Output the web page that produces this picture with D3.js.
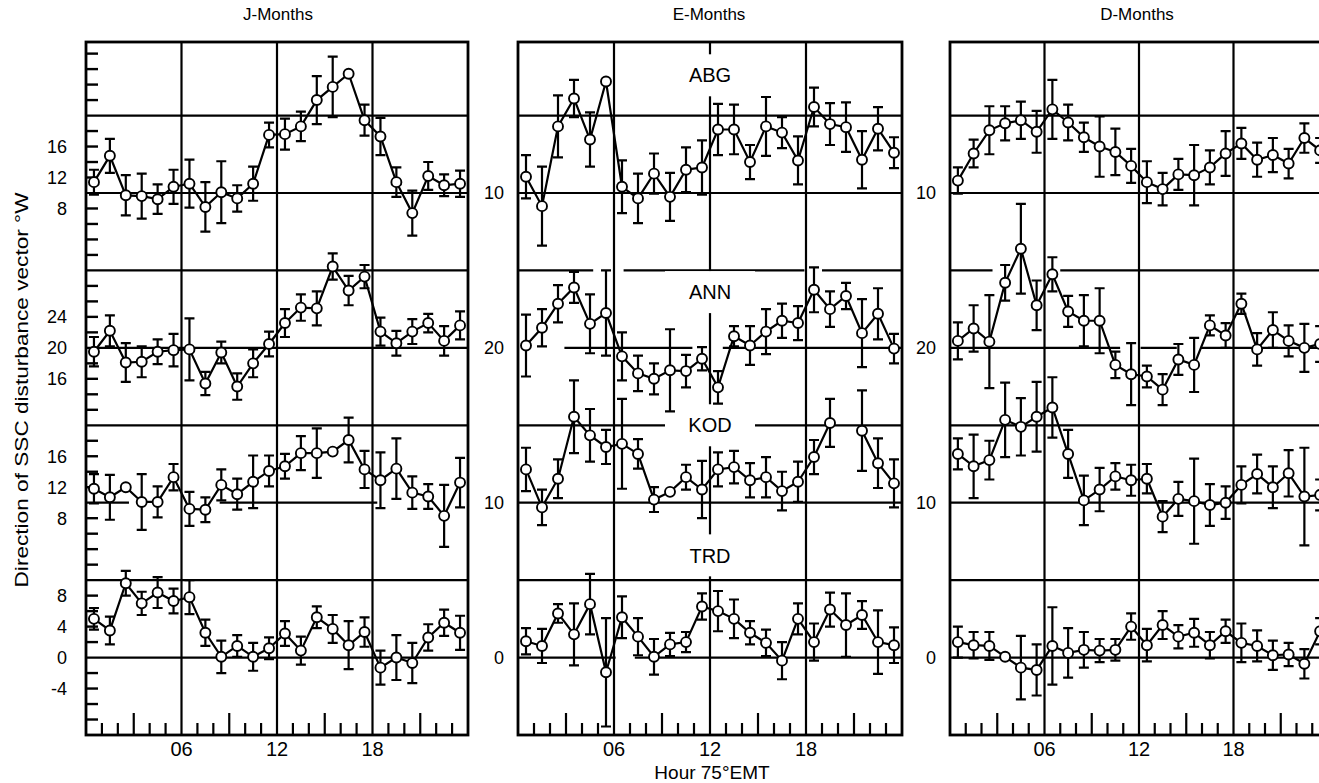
<!DOCTYPE html>
<html><head><meta charset="utf-8">
<script src="https://cdn.jsdelivr.net/npm/d3@7"></script>
<style>body{margin:0;background:#fff}svg{display:block}</style>
</head><body>
<svg id="c" width="1319" height="783"></svg>
<script>
// ---------------- DATA ----------------
const hours = [0.5,1.5,2.5,3.5,4.5,5.5,6.5,7.5,8.5,9.5,10.5,11.5,12.5,13.5,14.5,15.5,16.5,17.5,18.5,19.5,20.5,21.5,22.5,23.5];
const stations = ["ABG","ANN","KOD","TRD"];
const referenceValues = [10, 20, 10, 0];
const panelTitles = ["J-Months","E-Months","D-Months"];
const hourTickLabels = ["06","12","18"];
const jTickLabels = [["16","12","8"],["24","20","16"],["16","12","8"],["8","4","0","-4"]];
const edTickLabels = ["10","20","10","0"];

// J-Months
const J_ABG = [11.4,14.8,9.7,9.6,9.2,10.8,11.2,8.2,10.1,9.3,11.2,17.5,17.6,18.6,22.0,23.7,25.4,19.4,17.3,11.4,7.4,12.2,11.0,11.2];
const J_ABG_err = [1.6,2.2,2.6,2.9,1.9,2.2,3.1,3.2,4.0,1.7,2.2,1.6,2.0,1.9,3.1,3.9,0.6,2.0,2.4,1.9,2.9,1.8,1.4,1.7];
const J_ANN = [19.5,22.2,18.1,18.2,19.5,19.7,19.8,15.4,19.4,15.0,18.0,20.5,23.2,25.2,25.1,30.5,27.4,29.2,22.1,20.6,22.1,23.2,20.9,22.9];
const J_ANN_err = [1.9,2.0,2.5,2.0,1.6,2.1,4.0,1.5,1.4,1.7,1.8,1.6,1.8,1.7,2.2,1.7,1.9,1.5,1.8,1.6,1.6,1.2,1.9,1.8];
const J_KOD = [11.8,10.7,12.0,10.1,10.1,13.3,9.2,9.1,12.3,11.1,12.7,14.1,14.7,16.4,16.4,16.6,18.1,14.3,12.9,14.4,11.3,10.8,8.3,12.6];
const J_KOD_err = [1.9,2.9,0.6,3.6,2.0,1.7,2.2,1.6,2.0,2.0,3.4,2.0,1.6,2.2,3.2,0.5,2.9,2.4,3.6,3.9,2.1,1.6,4.0,3.2];
const J_TRD = [5.0,3.5,9.6,7.0,8.4,7.3,7.8,3.2,0.1,1.5,0.1,1.2,3.1,0.9,5.2,3.7,1.6,3.3,-1.3,0.0,-0.7,2.6,4.5,3.2];
const J_TRD_err = [1.4,1.8,1.6,1.5,2.0,1.6,2.2,1.7,2.1,1.4,1.8,1.4,1.6,1.8,1.4,1.8,3.1,1.9,2.2,2.9,2.6,1.7,1.7,2.2];

// E-Months
const E_ABG = [12.1,8.3,18.6,22.2,16.9,24.4,10.8,9.3,12.5,9.5,13.0,13.3,18.2,18.2,14.0,18.6,17.8,14.2,21.1,18.9,18.5,14.3,18.3,15.2];
const E_ABG_err = [2.8,5.1,4.0,2.4,3.5,0.5,3.4,3.2,2.6,3.1,2.9,3.5,3.3,3.2,2.2,3.8,2.0,3.1,2.5,2.7,3.2,3.7,2.8,2.0];
const E_ANN = [20.3,22.6,25.7,27.8,23.1,24.5,18.9,16.7,16.0,17.1,17.0,18.6,14.9,21.5,20.3,22.1,23.5,23.2,27.5,25.0,26.7,21.9,24.4,19.9];
const E_ANN_err = [4.0,2.4,2.4,2.0,3.8,5.5,3.1,2.3,2.0,5.3,2.1,1.5,2.1,1.3,2.5,2.9,2.2,2.2,2.9,2.3,1.7,4.4,3.3,1.9];
const E_KOD = [14.3,9.4,13.1,21.1,18.7,17.2,17.6,16.3,10.4,11.4,13.3,11.7,14.3,14.6,12.9,13.3,11.5,12.7,15.9,20.3,null,19.3,15.1,12.5];
const E_KOD_err = [2.8,2.3,2.5,4.7,3.4,2.2,5.8,1.9,1.6,0.5,1.6,3.7,2.2,2.1,2.2,2.6,2.5,2.6,2.2,3.1,null,5.2,3.2,3.1];
const E_TRD = [2.1,1.5,5.7,3.0,6.9,-1.9,5.2,2.7,0.1,1.7,2.0,6.6,6.0,5.0,3.2,1.9,-0.4,5.0,2.0,6.2,4.2,5.5,2.0,1.6];
const E_TRD_err = [1.7,2.2,1.2,4.0,3.9,7.0,2.7,2.4,2.3,1.5,1.3,1.7,2.6,2.5,1.5,1.7,2.4,2.0,2.4,2.2,4.1,1.8,4.1,2.3];

// D-Months
const D_ABG = [11.6,15.1,18.1,19.0,19.4,17.9,20.8,19.1,17.2,16.0,15.3,13.5,11.4,10.5,12.4,12.3,13.3,15.1,16.4,14.3,14.9,13.8,17.1,15.5];
const D_ABG_err = [1.7,1.8,3.1,2.2,2.4,2.7,3.8,2.3,1.9,3.9,3.0,2.2,2.7,2.1,2.0,3.9,2.2,2.9,2.0,2.2,2.2,1.9,1.9,1.6];
const D_ANN = [20.9,22.5,20.8,28.4,32.8,25.5,29.5,24.7,23.5,23.5,17.8,16.6,16.3,14.6,18.5,17.8,22.9,21.6,25.7,19.8,22.3,20.9,20.0,20.5];
const D_ANN_err = [2.4,3.0,6.0,2.3,5.8,3.2,2.2,2.0,3.3,4.2,1.7,4.0,1.4,2.0,2.0,3.5,1.3,1.6,1.3,2.1,2.3,2.0,3.1,2.3];
const D_KOD = [16.3,14.7,15.5,20.7,19.8,21.1,22.3,16.3,10.3,11.7,13.4,12.9,13.1,8.2,10.5,10.2,9.7,10.0,12.3,13.7,12.0,13.8,10.8,11.0];
const D_KOD_err = [2.0,4.1,2.5,4.8,3.7,4.5,3.9,3.1,3.2,2.8,1.7,2.0,1.9,2.0,2.2,5.5,2.7,2.1,2.4,2.5,2.7,3.0,6.3,2.0];
const D_TRD = [2.0,1.6,1.5,0.1,-1.3,-1.6,1.5,0.6,1.0,0.9,1.0,4.0,1.6,4.2,2.7,3.2,1.6,3.4,1.9,1.5,0.3,0.4,-0.8,3.4];
const D_TRD_err = [2.0,1.7,1.8,0.5,4.1,3.3,5.0,3.2,2.3,1.5,1.4,1.7,2.1,1.8,1.5,1.8,1.7,1.5,2.5,2.0,1.9,1.5,1.9,1.7];

// gaps (in hours) of the printed grid lines, keyed by stacked level
const J_lineGaps = {20: [[2.7, 8.4], [18.3, 24]]};
const E_lineGaps = {50: [[4.7, 6.6], [17.9, 19.0]], 40: [[0, 2.9], [10.9, 12.8]], 0: [[6.1, 7.3]]};
const D_lineGaps = {50: [[2.7, 7.0]], 40: [[10.8, 12.1], [14.4, 15.9]]};

// ---------------- LAYOUT ----------------
const FONT = '"Liberation Sans", Arial, Helvetica, sans-serif';
const svg = d3.select("#c");
const laneOffset = {ABG: 50, ANN: 20, KOD: 10, TRD: 0};
const y = d3.scaleLinear().domain([-10, 79.5]).range([735, 42]);
const gridLevels = [0, 10, 20, 30, 40, 50, 60, 70];

const panels = [
  {title: panelTitles[0], range: [86, 468], gaps: J_lineGaps, series: [[J_ABG,J_ABG_err],[J_ANN,J_ANN_err],[J_KOD,J_KOD_err],[J_TRD,J_TRD_err]], kind: "J"},
  {title: panelTitles[1], range: [518, 902], gaps: E_lineGaps, series: [[E_ABG,E_ABG_err],[E_ANN,E_ANN_err],[E_KOD,E_KOD_err],[E_TRD,E_TRD_err]], kind: "E"},
  {title: panelTitles[2], range: [950, 1328], gaps: D_lineGaps, series: [[D_ABG,D_ABG_err],[D_ANN,D_ANN_err],[D_KOD,D_KOD_err],[D_TRD,D_TRD_err]], kind: "D"}
];
const titleX = [278, 709, 1137];
const labelG = {ABG: 75.2, ANN: 47.2, KOD: 30.0, TRD: 13.2};

function segmentsFor(gaps) {
  const segs = [];
  let start = 0;
  (gaps || []).forEach(([a, b]) => { if (a > start) segs.push([start, a]); start = b; });
  if (start < 24) segs.push([start, 24]);
  return segs;
}

panels.forEach((p, pi) => {
  const x = d3.scaleLinear().domain([0, 24]).range(p.range);
  const g = svg.append("g");
  const [x0, x1] = p.range;
  const yTop = y(79.5), yBot = y(-10);

  const hSegs = [];
  gridLevels.forEach(lv => segmentsFor(p.gaps[lv]).forEach(s => hSegs.push({lv, a: s[0], b: s[1]})));
  g.selectAll("line.h").data(hSegs).join("line")
    .attr("x1", d => x(d.a)).attr("x2", d => x(d.b))
    .attr("y1", d => y(d.lv)).attr("y2", d => y(d.lv))
    .attr("stroke", "#000").attr("stroke-width", 2.2);
  g.selectAll("line.v").data([6, 12, 18]).join("line")
    .attr("x1", d => x(d)).attr("x2", d => x(d))
    .attr("y1", yTop).attr("y2", yBot)
    .attr("stroke", "#000").attr("stroke-width", 2.2);
  g.append("rect").attr("x", x0).attr("y", yTop).attr("width", x1 - x0).attr("height", yBot - yTop)
    .attr("fill", "none").attr("stroke", "#000").attr("stroke-width", 2.8);

  const minorHours = d3.range(1, 24).filter(h => h % 6 !== 0);
  g.selectAll("line.bt").data(minorHours).join("line")
    .attr("x1", d => x(d)).attr("x2", d => x(d))
    .attr("y1", yBot).attr("y2", d => yBot - (d % 3 === 0 ? 22 : 12))
    .attr("stroke", "#000").attr("stroke-width", 2.2);
  g.selectAll("text.hl").data(hourTickLabels).join("text")
    .attr("x", d => x(+d)).attr("y", 756)
    .attr("text-anchor", "middle").attr("font-family", FONT).attr("font-size", 20)
    .text(d => d);

  g.append("text").attr("x", titleX[pi]).attr("y", 20)
    .attr("text-anchor", "middle").attr("font-family", FONT).attr("font-size", 17)
    .text(p.title);

  if (p.kind === "J") {
    const tickLevels = d3.range(-8, 80, 2).filter(v => v % 10 !== 0);
    g.selectAll("line.lt").data(tickLevels).join("line")
      .attr("x1", x0).attr("x2", x0 + 12)
      .attr("y1", d => y(d)).attr("y2", d => y(d))
      .attr("stroke", "#000").attr("stroke-width", 2.4);
    stations.forEach((s, i) => {
      jTickLabels[i].forEach(lbl => {
        g.append("text").attr("x", x0 - 19).attr("y", y(+lbl + laneOffset[s])).attr("dy", "0.36em")
          .attr("text-anchor", "end").attr("font-family", FONT).attr("font-size", 18).text(lbl);
      });
    });
  } else {
    stations.forEach((s, i) => {
      g.append("text").attr("x", x0 - 14).attr("y", y(referenceValues[i] + laneOffset[s])).attr("dy", "0.36em")
        .attr("text-anchor", "end").attr("font-family", FONT).attr("font-size", 18).text(edTickLabels[i]);
    });
  }

  if (p.kind === "E") {
    stations.forEach(s => {
      const cy = y(labelG[s]);
      g.append("rect").attr("x", x(12) - 45).attr("y", cy - 21).attr("width", 90).attr("height", 42).attr("fill", "#fff");
      g.append("text").attr("x", x(12)).attr("y", cy).attr("dy", "0.36em").attr("text-anchor", "middle")
        .attr("font-family", FONT).attr("font-size", 20).text(s);
    });
  }

  stations.forEach((s, i) => {
    const [vals, errs] = p.series[i];
    const off = laneOffset[s];
    const pts = hours.map((h, k) => ({h, v: vals[k], e: errs[k]}));
    const line = d3.line().defined(d => d.v !== null).x(d => x(d.h)).y(d => y(d.v + off));
    g.append("path").datum(pts).attr("d", line).attr("fill", "none").attr("stroke", "#000").attr("stroke-width", 2.2);
    const eb = pts.filter(d => d.v !== null && d.e !== null && d.e * 7.74 > 6);
    const capW = 5;
    g.selectAll(null).data(eb).join("path")
      .attr("d", d => {
        const xx = x(d.h), yt = y(d.v + off + d.e), yb = y(d.v + off - d.e);
        return `M${xx},${yt}V${yb}M${xx - capW},${yt}H${xx + capW}M${xx - capW},${yb}H${xx + capW}`;
      })
      .attr("fill", "none").attr("stroke", "#000").attr("stroke-width", 2.2);
    g.selectAll(null).data(pts.filter(d => d.v !== null)).join("circle")
      .attr("cx", d => x(d.h)).attr("cy", d => y(d.v + off)).attr("r", 5)
      .attr("fill", "#fff").attr("stroke", "#000").attr("stroke-width", 1.9);
  });
});

svg.append("text").attr("transform", "translate(28,390) rotate(-90)")
  .attr("text-anchor", "middle").attr("font-family", FONT).attr("font-size", 19)
  .attr("textLength", 395).attr("lengthAdjust", "spacingAndGlyphs")
  .text("Direction of SSC disturbance vector \u00B0W");
svg.append("text").attr("x", 712).attr("y", 779).attr("text-anchor", "middle")
  .attr("font-family", FONT).attr("font-size", 19).text("Hour 75\u00B0EMT");
</script>
</body></html>
